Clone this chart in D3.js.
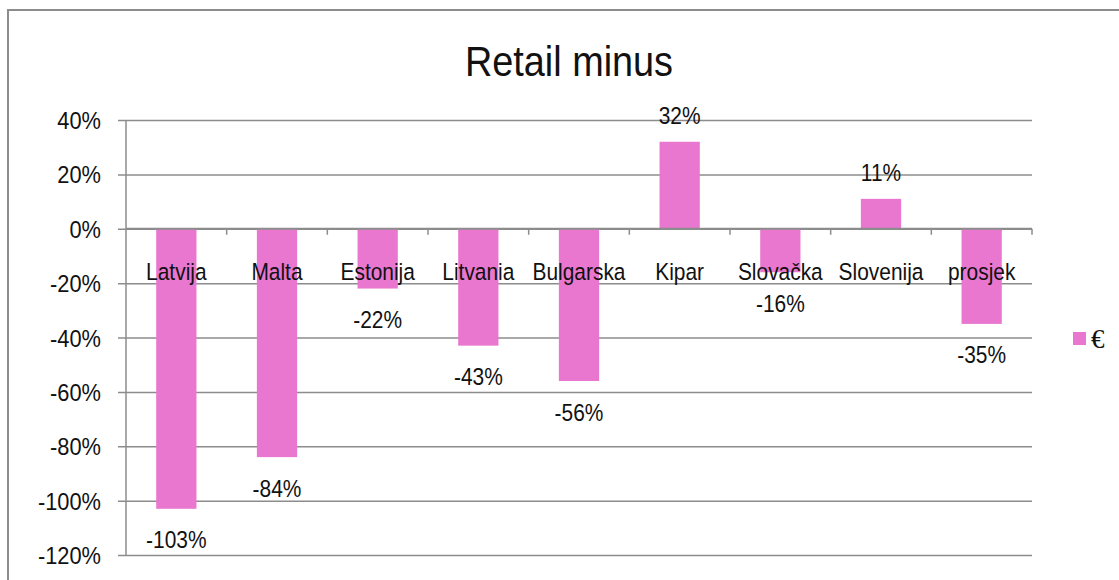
<!DOCTYPE html>
<html>
<head>
<meta charset="utf-8">
<title>Retail minus</title>
<script src="https://cdn.jsdelivr.net/npm/d3@7"></script>
<style>
  body { margin: 0; background: #fff; }
  svg text { font-family: "Liberation Sans", Arial, sans-serif; fill: #111; }
</style>
</head>
<body>
<script>
    // data
    var categories = ["Latvija", "Malta", "Estonija", "Litvania", "Bulgarska", "Kipar", "Slovačka", "Slovenija", "prosjek"];
    var values = [-103, -84, -22, -43, -56, 32, -16, 11, -35];
    var yTicks = [40, 20, 0, -20, -40, -60, -80, -100, -120];
    var seriesName = "€";

    var width = 1119,
        height = 580,
        plotLeft = 126, plotRight = 1032,
        plotTop = 120, plotBottom = 555,
        barColor = "#e977cf",
        gridColor = "#8c8c8c",
        squeeze = 0.89;

    var x = d3.scaleBand()
        .domain(categories)
        .range([plotLeft, plotRight])
        .paddingInner(0.6)
        .paddingOuter(0.3);

    var xb = d3.scaleBand().domain(categories).range([plotLeft, plotRight]);

    var y = d3.scaleLinear()
        .domain([-120, 40])
        .range([plotBottom, plotTop]);

    var svg = d3.select("body").append("svg")
        .attr("width", width)
        .attr("height", height);

    // outer frame (runs off the right and bottom)
    svg.append("rect")
        .attr("x", 8).attr("y", 10)
        .attr("width", 1300).attr("height", 800)
        .attr("fill", "none")
        .attr("stroke", gridColor)
        .attr("stroke-width", 2);

    // text helper, slightly condensed like the original
    function label(g, tx, ty, str, size, anchor) {
        return g.append("text")
            .attr("transform", "translate(" + tx + "," + ty + ") scale(" + squeeze + ",1)")
            .attr("text-anchor", anchor || "middle")
            .style("font-size", size + "px")
            .text(str);
    }

    // title
    label(svg, 569, 76, "Retail minus", 42.5);

    // gridlines + y axis
    var yAxis = d3.axisLeft(y)
        .tickValues(yTicks)
        .tickSize(-(plotRight - plotLeft))
        .tickFormat(function(d) { return d + "%"; });

    var gy = svg.append("g")
        .attr("transform", "translate(" + plotLeft + ",0)")
        .call(yAxis);
    gy.select(".domain").remove();
    gy.selectAll(".tick line")
        .attr("x1", -8)
        .attr("stroke", gridColor)
        .attr("stroke-width", 1.5);
    gy.selectAll(".tick text").remove();
    gy.selectAll(".tick").each(function(d) {
        label(d3.select(this), -25, 8.5, d + "%", 24.5, "end");
    });

    svg.append("line")
        .attr("x1", plotLeft).attr("x2", plotLeft)
        .attr("y1", plotTop).attr("y2", plotBottom)
        .attr("stroke", gridColor)
        .attr("stroke-width", 1.5);

    // bars
    svg.selectAll("rect.bar")
        .data(values)
        .enter().append("rect")
        .attr("class", "bar")
        .attr("x", function(d, i) { return x(categories[i]); })
        .attr("width", x.bandwidth())
        .attr("y", function(d) { return y(Math.max(0, d)); })
        .attr("height", function(d) { return Math.abs(y(d) - y(0)); })
        .attr("fill", barColor);

    // zero line with category ticks
    svg.append("line")
        .attr("x1", plotLeft).attr("x2", plotRight)
        .attr("y1", y(0)).attr("y2", y(0))
        .attr("stroke", gridColor)
        .attr("stroke-width", 2);

    var bounds = categories.map(function(c) { return xb(c); }).concat([plotRight]);
    svg.selectAll("line.cattick")
        .data(bounds.slice(1))
        .enter().append("line")
        .attr("class", "cattick")
        .attr("x1", function(d) { return d; })
        .attr("x2", function(d) { return d; })
        .attr("y1", y(0))
        .attr("y2", y(0) + 6)
        .attr("stroke", gridColor)
        .attr("stroke-width", 1.5);

    // category labels
    var gl = svg.append("g");
    categories.forEach(function(c) {
        label(gl, xb(c) + xb.bandwidth() / 2, 280, c, 23.5);
    });

    // value labels
    var gv = svg.append("g");
    values.forEach(function(v, i) {
        var cx = xb(categories[i]) + xb.bandwidth() / 2;
        var ty = v < 0 ? y(v) + 39.5 : y(v) - 17.5;
        label(gv, cx, ty, v + "%", 23.5);
    });

    // legend
    svg.append("rect")
        .attr("x", 1073).attr("y", 332)
        .attr("width", 13).attr("height", 13)
        .attr("fill", barColor);
    svg.append("text")
        .attr("x", 1091).attr("y", 348)
        .style("font-family", "'Liberation Serif', serif")
        .style("font-size", "27px")
        .text(seriesName);
</script>
</body>
</html>
